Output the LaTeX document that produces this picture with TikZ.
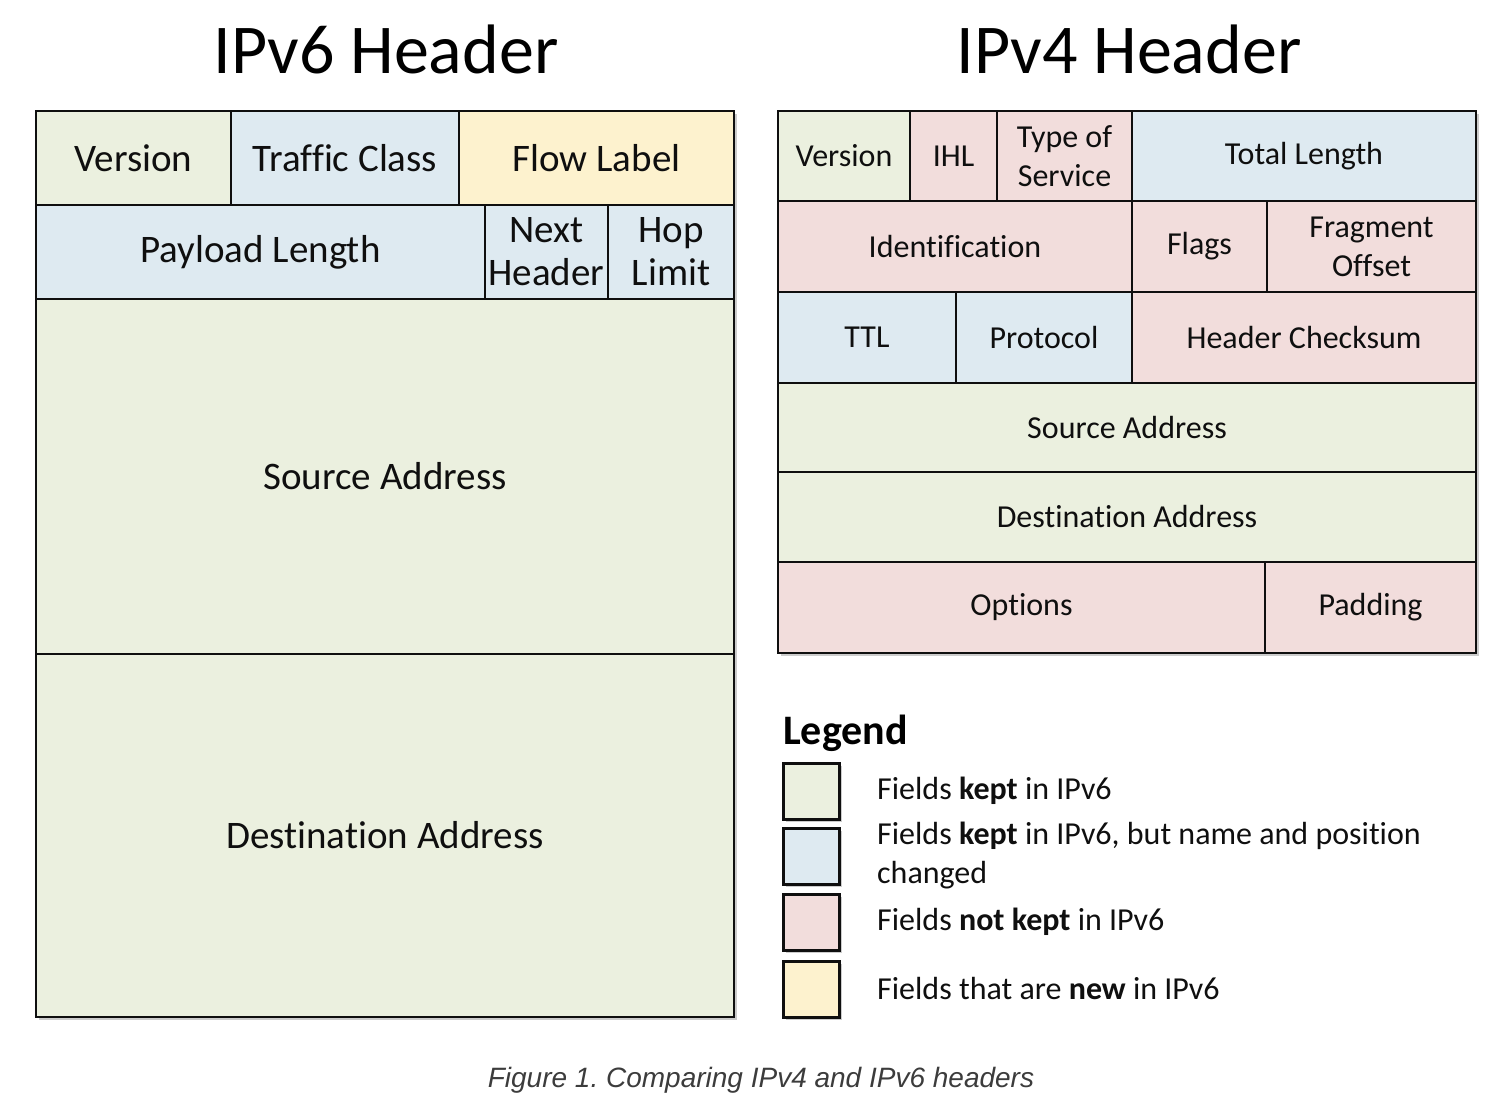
\documentclass[tikz,border=0pt]{standalone}
\usepackage{fontspec}
\setmainfont[Ligatures=NoCommon]{Carlito}
\newfontfamily\capfont{Liberation Sans}
\usetikzlibrary{shadows}
\frenchspacing

\definecolor{keep}{RGB}{235,240,223}
\definecolor{moved}{RGB}{222,234,241}
\definecolor{gone}{RGB}{242,221,220}
\definecolor{fresh}{RGB}{253,242,206}
\definecolor{ink}{RGB}{15,15,15}
\definecolor{capgray}{RGB}{60,60,60}

% one header field: name, x1, y1, x2, y2, fill, text
\newcommand\fld[7]{%
  \node[field, fill=#6, minimum width={(#4-#2)*1pt}, minimum height={(#5-#3)*1pt}]
    (#1) at ({(#2+#4)/2},{(#3+#5)/2}) {#7};}

\begin{document}
\begin{tikzpicture}[x=1pt, y=-1pt,
  field/.style={draw=ink, line width=2.8pt, inner sep=0pt, outer sep=0pt,
    align=center, text=ink},
  frame/.style={draw=ink, line width=2.9pt, inner sep=0pt, fill=white,
    drop shadow={shadow xshift=3pt, shadow yshift=-3pt, opacity=0.4}},
  border/.style={draw=ink, line width=2.9pt, inner sep=0pt, fill=none},
  vsix/.style={font=\fontsize{39}{43}\selectfont},
  vfour/.style={font=\fontsize{32}{39}\selectfont},
  heading/.style={font=\fontsize{70}{80}\selectfont, text=black},
  swatch/.style={draw=ink, line width=3pt, minimum width=56pt, minimum height=56pt,
    inner sep=0pt, drop shadow={shadow xshift=3pt, shadow yshift=-3pt, opacity=0.4}},
  legtext/.style={anchor=west, align=left, inner sep=0pt, text=ink,
    font=\fontsize{32}{39}\selectfont}
]
\useasboundingbox (0,0) rectangle (1508,1110);

% ---------- titles ----------
\node[heading] (t6) at (386,49) {IPv6 Header};
\node[heading] (t4) at (1129,49) {IPv4 Header};

% ---------- IPv6 header ----------
\node[frame, minimum width=698pt, minimum height=906pt] (v6) at (385,564) {};
\begin{scope}[vsix]
\fld{v6ver}{36}{111}{231}{205}{keep}{Version}
\fld{v6tc}{231}{111}{459}{205}{moved}{Traffic Class}
\fld{v6fl}{459}{111}{734}{205}{fresh}{Flow Label}
\fld{v6pl}{36}{205}{485}{299}{moved}{Payload Length}
\fld{v6nh}{485}{205}{608}{299}{moved}{Next\\Header}
\fld{v6hl}{608}{205}{734}{299}{moved}{Hop\\Limit}
\fld{v6src}{36}{299}{734}{654}{keep}{Source Address}
\fld{v6dst}{36}{654}{734}{1017}{keep}{Destination Address}
\end{scope}
\node[border, minimum width=698pt, minimum height=906pt] (v6b) at (385,564) {};

% ---------- IPv4 header ----------
\node[frame, minimum width=698pt, minimum height=542pt] (v4) at (1127,382) {};
\begin{scope}[vfour]
\fld{v4ver}{778}{111}{910}{201}{keep}{Version}
\fld{v4ihl}{910}{111}{997}{201}{gone}{IHL}
\fld{v4tos}{997}{111}{1132}{201}{gone}{Type of\\Service}
\fld{v4tl}{1132}{111}{1476}{201}{moved}{Total Length}
\fld{v4id}{778}{201}{1132}{292}{gone}{Identification}
\fld{v4fl}{1132}{201}{1267}{292}{gone}{Flags}
\fld{v4fo}{1267}{201}{1476}{292}{gone}{Fragment\\Offset}
\fld{v4ttl}{778}{292}{956}{383}{moved}{TTL}
\fld{v4pr}{956}{292}{1132}{383}{moved}{Protocol}
\fld{v4cs}{1132}{292}{1476}{383}{gone}{Header Checksum}
\fld{v4src}{778}{383}{1476}{472}{keep}{Source Address}
\fld{v4dst}{778}{472}{1476}{562}{keep}{Destination Address}
\fld{v4opt}{778}{562}{1265}{653}{gone}{Options}
\fld{v4pad}{1265}{562}{1476}{653}{gone}{Padding}
\end{scope}
\node[border, minimum width=698pt, minimum height=542pt] (v4b) at (1127,382) {};

% ---------- legend ----------
\node[anchor=west, inner sep=0pt, font=\fontsize{42}{46}\selectfont\bfseries, text=black]
  (leg) at (783,733) {Legend};
\node[swatch, fill=keep]  (s1) at (811,791) {};
\node[swatch, fill=moved] (s2) at (811,856) {};
\node[swatch, fill=gone]  (s3) at (811,922) {};
\node[swatch, fill=fresh] (s4) at (811,989) {};
\node[legtext] (l1) at (877,791) {Fields \textbf{kept} in IPv6};
\node[legtext] (l2) at (877,856) {Fields \textbf{kept} in IPv6, but name and position\\changed};
\node[legtext] (l3) at (877,922) {Fields \textbf{not kept} in IPv6};
\node[legtext] (l4) at (877,989) {Fields that are \textbf{new} in IPv6};

% ---------- caption ----------
\node[anchor=base, inner sep=0pt, text=capgray, font=\capfont\itshape\fontsize{28}{32}\selectfont]
  (cap) at (761,1087) {Figure 1. Comparing IPv4 and IPv6 headers};
\end{tikzpicture}
\end{document}
